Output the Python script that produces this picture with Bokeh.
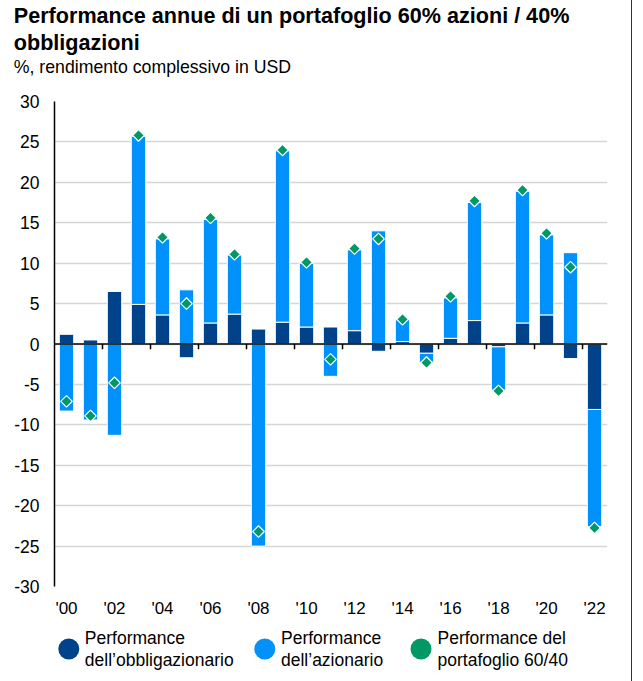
import numpy as np
from bokeh.plotting import figure
from bokeh.layouts import column
from bokeh.models import (Range1d, FixedTicker, Span, ColumnDataSource, Title)
from bokeh.core.properties import value
from bokeh.embed import file_html
from bokeh.resources import INLINE

# ---------------- data ----------------
years = list(range(2000, 2023))
bond = [1.2, 0.5, 6.5, 4.9, 3.6, -1.7, 2.6, 3.7, 1.85, 2.7, 2.1, 2.1, 1.65,
        -0.9, 0.3, -1.15, 0.7, 2.9, -0.35, 2.6, 3.6, -1.8, -8.1]
equity = [-8.3, -9.4, -11.3, 20.8, 9.4, 6.7, 12.8, 7.3, -25.0, 21.2, 7.9, -4.0, 10.0,
          14.0, 2.7, -1.1, 5.0, 14.6, -5.35, 16.3, 9.9, 11.3, -14.5]
portfolio = [-7.1, -8.9, -4.8, 25.8, 13.2, 5.0, 15.6, 11.1, -23.2, 24.0, 10.1, -1.9, 11.8,
             13.0, 3.05, -2.3, 5.9, 17.7, -5.8, 19.05, 13.7, 9.5, -22.75]
tick_years = [2000, 2002, 2004, 2006, 2008, 2010, 2012, 2014, 2016, 2018, 2020, 2022]
tick_labels = ["'00", "'02", "'04", "'06", "'08", "'10", "'12", "'14", "'16", "'18", "'20", "'22"]
y_ticks = [-30, -25, -20, -15, -10, -5, 0, 5, 10, 15, 20, 25, 30]
y_tick_labels = ["-30", "-25", "-20", "-15", "-10", "-5", "0", "5", "10", "15", "20", "25", "30"]
title_line1 = "Performance annue di un portafoglio 60% azioni / 40%"
title_line2 = "obbligazioni"
subtitle = "%, rendimento complessivo in USD"
legend_labels = ["Performance\ndell\u2019obbligazionario",
                 "Performance\ndell\u2019azionario",
                 "Performance del\nportafoglio 60/40"]

# ---------------- styles / layout ----------------
DARK = "#00438B"
LIGHT = "#0092FA"
GREEN = "#009966"
FONT = "Liberation Sans"
TXT = "17.5px"
W = 631
MAIN_H = 620
LEG_H = 61
BORDER_L = 54
BORDER_R = 24
# legend layout (pixel positions inside the legend strip)
leg_circle_x = [68.3, 264.3, 420.5]
leg_text_x = [84.3, 280.5, 437.0]
leg_y = 648.5

b = np.array(bond)
e = np.array(equity)
same = np.sign(b) == np.sign(e)
eq_bottom = np.where(same, b, 0.0)
eq_top = eq_bottom + e

src = ColumnDataSource(dict(x=years, b0=np.zeros(len(years)), b1=b,
                            e0=eq_bottom, e1=eq_top, p=portfolio))

p = figure(width=W, height=MAIN_H, x_range=Range1d(1999.5, 2022.54),
           y_range=Range1d(-30, 30), output_backend="svg", toolbar_location=None,
           min_border_left=BORDER_L, min_border_right=BORDER_R, min_border_top=101,
           min_border_bottom=33)
p.outline_line_color = None
p.background_fill_color = "white"
p.border_fill_color = "white"

# bars
p.vbar(x="x", bottom="b0", top="b1", width=0.6, source=src,
       fill_color=DARK, line_color="white", line_width=1)
p.vbar(x="x", bottom="e0", top="e1", width=0.6, source=src,
       fill_color=LIGHT, line_color="white", line_width=1)
p.scatter(x="x", y="p", source=src, marker="square", size=8.2, angle=np.pi / 4,
          fill_color=GREEN, line_color="white", line_width=1.2)

# zero axis line and ticks between odd/even years
p.add_layout(Span(location=0, dimension="width", line_color="black", line_width=1.5))
tick_x = [y + 0.5 for y in years if y % 2 == 1]
p.segment(x0=tick_x, y0=[0] * len(tick_x), x1=tick_x, y1=[-0.65] * len(tick_x),
          line_color="black", line_width=1.5)

# axes
p.yaxis.ticker = FixedTicker(ticks=y_ticks)
p.yaxis.major_label_overrides = dict(zip(y_ticks, y_tick_labels))
p.yaxis.major_tick_line_color = None
p.yaxis.minor_tick_line_color = None
p.yaxis.major_tick_out = 0
p.yaxis.major_label_standoff = 15
p.yaxis.axis_line_color = "black"
p.yaxis.axis_line_width = 1.5
p.yaxis.major_label_text_font = FONT
p.yaxis.major_label_text_font_size = TXT
p.yaxis.major_label_text_color = "black"

p.xaxis.ticker = FixedTicker(ticks=tick_years)
p.xaxis.major_label_overrides = dict(zip(tick_years, tick_labels))
p.xaxis.axis_line_color = None
p.xaxis.major_tick_line_color = None
p.xaxis.minor_tick_line_color = None
p.xaxis.major_tick_out = 0
p.xaxis.major_label_standoff = 12
p.xaxis.major_label_text_font = FONT
p.xaxis.major_label_text_font_size = "17px"
p.xaxis.major_label_text_color = "black"

p.xgrid.visible = False
p.ygrid.grid_line_color = "#d6d6d6"
p.ygrid.grid_line_width = 1.3

# titles (stacked outward from the frame)
p.add_layout(Title(text=" ", text_font_size="1px", standoff=22), "above")
p.add_layout(Title(text=subtitle, align="left", offset=-40.7, standoff=0,
                   text_font=FONT, text_font_style="normal", text_font_size="17.7px",
                   text_color="black"), "above")
p.add_layout(Title(text=title_line2, align="left", offset=-40.7, standoff=0,
                   text_font=FONT, text_font_style="bold", text_font_size="21.6px",
                   text_color="black"), "above")
p.add_layout(Title(text=title_line1, align="left", offset=-40.7, standoff=0,
                   text_font=FONT, text_font_style="bold", text_font_size="21.6px",
                   text_color="black"), "above")

# legend strip (separate figure below the chart; its frame is aligned with the chart frame)
p2 = figure(width=W, height=LEG_H, x_range=Range1d(BORDER_L, W - BORDER_R),
            y_range=Range1d(MAIN_H + LEG_H, MAIN_H), output_backend="svg",
            toolbar_location=None, x_axis_location=None, y_axis_location=None,
            min_border_left=BORDER_L, min_border_right=BORDER_R,
            min_border_top=0, min_border_bottom=0)
p2.outline_line_color = None
p2.grid.visible = False
leg_src = ColumnDataSource(dict(cx=leg_circle_x, tx=leg_text_x, y=[leg_y] * 3,
                                color=[DARK, LIGHT, GREEN], label=legend_labels))
p2.scatter(x="cx", y="y", source=leg_src, marker="circle", size=21,
           fill_color="color", line_color=None)
p2.text(x="tx", y="y", text="label", source=leg_src, text_font=value(FONT),
        text_font_size="17.5px", text_color="black", text_baseline="middle",
        text_align="left", text_line_height=1.07)

layout = column(p, p2, spacing=0)
layout.styles = {"border-right": "1.5px solid #333333"}

open("out.html", "w").write(file_html(layout, INLINE))
